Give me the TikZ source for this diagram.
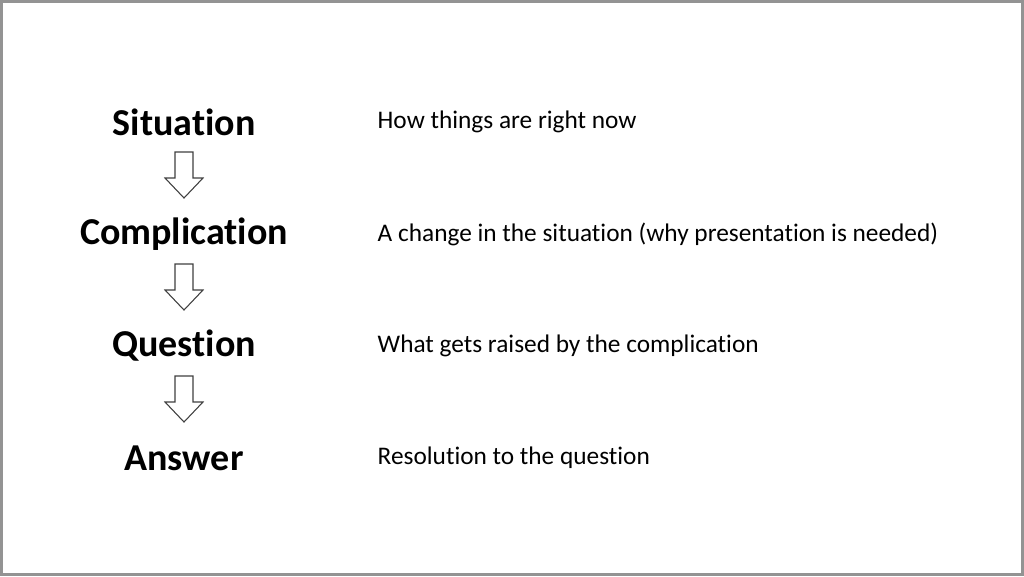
\documentclass[tikz,border=0pt]{standalone}
\usepackage{fontspec}
\setmainfont[Ligatures=NoCommon]{Carlito}
\begin{document}
\begin{tikzpicture}[x=0.75pt,y=-0.75pt,
  title/.style={font=\fontsize{28.5}{34}\selectfont\bfseries,anchor=center},
  desc/.style={font=\fontsize{19}{23}\selectfont,anchor=west},
  downarrow/.style={draw=black!75,line width=0.8pt,fill=white}]
\fill[gray!85] (0,0) rectangle (1024,576);
\fill[white] (3,3) rectangle (1021,573);
\useasboundingbox (0,0) rectangle (1024,576);
\node[title] (s) at (184,122) {Situation};
\node[title] (c) at (184,234) {Complication};
\node[title] (q) at (184,346) {Question};
\node[title] (a) at (184,458) {Answer};
\node[desc] (sd) at (373,122) {How things are right now};
\node[desc] (cd) at (373,234) {A change in the situation (why presentation is needed)};
\node[desc] (qd) at (373,346) {What gets raised by the complication};
\node[desc] (ad) at (373,458) {Resolution to the question};
\foreach \n/\y in {a1/152,a2/264,a3/376}{
  \coordinate (\n) at (184,\y);
  \draw[downarrow] ([shift={(-9,0)}]\n) -- ++(18,0) -- ++(0,26) -- ++(10,0) -- ++(-19,20) -- ++(-19,-20) -- ++(10,0) -- cycle;
}
\end{tikzpicture}
\end{document}
